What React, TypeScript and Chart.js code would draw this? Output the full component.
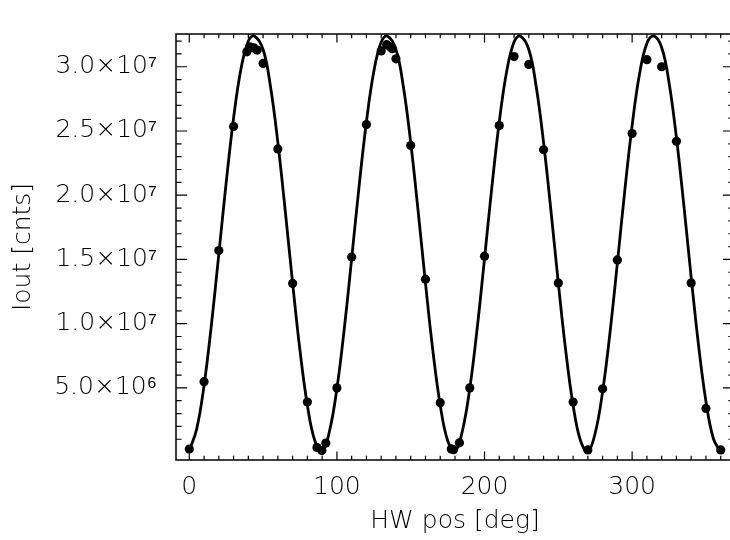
import React, { useEffect, useRef } from 'react';
import { Chart, registerables } from 'chart.js';

Chart.register(...registerables);

// Tick values / labels (y in units of 10^6 counts)
const xTickValues = [0, 100, 200, 300];
const xTickLabels = ['0', '100', '200', '300'];
const yTickValues = [5, 10, 15, 20, 25, 30];
const yTickLabels = ['5.0×10⁶', '1.0×10⁷', '1.5×10⁷', '2.0×10⁷', '2.5×10⁷', '3.0×10⁷'];

// Measured points: HW position [deg] and Iout [10^6 cnts]
const measuredAngles = [
  0, 10, 20, 30, 39, 41, 43.7, 46, 50, 60, 70, 80, 86.5, 89.8, 92.5,
  100, 110, 120, 130, 133.7, 136, 137.5, 140, 150, 160, 170, 177.5, 179, 183,
  190, 200, 210, 220, 230, 240, 250, 260, 270,
  280, 290, 300, 310, 320, 330, 340, 350, 360,
];
const measuredCounts = [
  0.24, 5.48, 15.69, 25.35, 31.16, 31.55, 31.47, 31.3, 30.26, 23.6, 13.13, 3.9, 0.36, 0.12, 0.7,
  5.0, 15.18, 25.5, 31.23, 31.72, 31.55, 31.4, 30.62, 23.86, 13.46, 3.85, 0.25, 0.19, 0.72,
  5.0, 15.25, 25.42, 30.79, 30.18, 23.54, 13.17, 3.9, 0.17,
  4.93, 14.96, 24.8, 30.55, 30.0, 24.2, 13.17, 3.4, 0.17,
];

// Fitted curve
const fitAngles = [
  0, 5, 10, 15, 20, 25, 30, 35, 40, 44, 50, 55, 60, 65, 70, 75, 80, 85, 90,
  95, 100, 105, 110, 115, 120, 125, 130, 134.15, 140, 145, 150, 155, 160, 165, 170, 175, 180,
  185, 190, 195, 200, 205, 210, 215, 220, 224.15, 230, 235, 240, 245, 250, 255, 260, 265, 270,
  275, 280, 285, 290, 295, 300, 305, 310, 314.5, 320, 325, 330, 335, 340, 345, 350, 355, 360,
];
const fitCounts = [
  0.13, 1.79, 5.19, 9.92, 15.41, 20.99, 25.99, 29.82, 32.0, 32.4, 31.34, 28.46, 24.1, 18.79, 13.16, 7.9, 3.65, 0.9, 0.02,
  1.64, 4.95, 9.61, 15.07, 20.66, 25.72, 29.63, 31.92, 32.4, 31.34, 28.46, 24.1, 18.79, 13.16, 7.9, 3.65, 0.9, 0.05,
  1.64, 4.95, 9.61, 15.07, 20.66, 25.72, 29.63, 31.92, 32.4, 31.34, 28.46, 24.1, 18.79, 13.16, 7.9, 3.65, 0.9, 0.03,
  1.49, 4.71, 9.3, 14.73, 20.34, 25.44, 29.44, 31.83, 32.4, 31.5, 28.76, 24.49, 19.24, 13.61, 8.3, 3.94, 1.06, 0.0,
];

const X_MIN = -9;
const X_MAX = 369;
const Y_MIN = -0.615;
const Y_MAX = 32.55;
const X_MINOR_STEP = 10;
const X_MAJOR_STEP = 100;
const Y_MINOR_STEP = 1;
const Y_MAJOR_STEP = 5;

const FONT_FAMILY = "'DejaVu Sans', 'Liberation Sans', sans-serif";
const TEXT_COLOR = '#000';

const framePlugin = {
  id: 'idlFrame',
  afterDatasetsDraw(chart: any) {
    const { ctx, chartArea, scales } = chart;
    const { left, right, top, bottom } = chartArea;
    const x = scales.x;
    const y = scales.y;
    const h = bottom - top;
    const w = right - left;
    const xMaj = 0.02 * h;
    const xMin = xMaj / 2;
    const yMaj = 0.02 * w;
    const yMin = yMaj / 2;
    ctx.save();
    ctx.strokeStyle = '#000';
    ctx.lineWidth = 1.5;
    ctx.strokeRect(left, top, w, h);
    ctx.lineWidth = 1.2;
    ctx.beginPath();
    for (let v = Math.ceil(x.min / X_MINOR_STEP) * X_MINOR_STEP; v <= x.max; v += X_MINOR_STEP) {
      const px = x.getPixelForValue(v);
      const len = v % X_MAJOR_STEP === 0 ? xMaj : xMin;
      ctx.moveTo(px, bottom);
      ctx.lineTo(px, bottom - len);
      ctx.moveTo(px, top);
      ctx.lineTo(px, top + len);
    }
    for (let v = Y_MINOR_STEP; v <= y.max; v += Y_MINOR_STEP) {
      const py = y.getPixelForValue(v);
      const len = v % Y_MAJOR_STEP === 0 ? yMaj : yMin;
      ctx.moveTo(left, py);
      ctx.lineTo(left + len, py);
      ctx.moveTo(right, py);
      ctx.lineTo(right - len, py);
    }
    ctx.stroke();
    ctx.restore();
  },
};

export default function App() {
  const canvasRef = useRef<HTMLCanvasElement | null>(null);

  useEffect(() => {
    const canvas = canvasRef.current;
    if (!canvas) return;
    const fitData = fitAngles.map((a, i) => ({ x: a, y: fitCounts[i] }));
    const measData = measuredAngles.map((a, i) => ({ x: a, y: measuredCounts[i] }));
    const tickFont = { family: FONT_FAMILY, size: 25, weight: 200 as any };
    const chart = new Chart(canvas, {
      type: 'scatter',
      data: {
        datasets: [
          {
            label: 'fit',
            data: fitData,
            showLine: true,
            borderColor: '#000',
            borderWidth: 2.8,
            pointRadius: 0,
            tension: 0.4,
            order: 2,
          } as any,
          {
            label: 'measured',
            data: measData,
            showLine: false,
            pointRadius: 4.6,
            pointStyle: 'circle',
            backgroundColor: '#000',
            borderColor: '#000',
            borderWidth: 0,
            order: 1,
          } as any,
        ],
      },
      options: {
        animation: false,
        responsive: false,
        maintainAspectRatio: false,
        devicePixelRatio: 1,
        layout: { padding: { top: 7, right: 6, left: 0, bottom: 0 } },
        plugins: { legend: { display: false }, tooltip: { enabled: false }, title: { display: false } },
        scales: {
          x: {
            type: 'linear',
            min: X_MIN,
            max: X_MAX,
            grid: { display: false, drawTicks: false },
            border: { display: false },
            afterBuildTicks: (s: any) => {
              s.ticks = xTickValues.map((v) => ({ value: v }));
            },
            afterFit: (s: any) => {
              s.height = 80;
            },
            ticks: {
              autoSkip: false,
              maxRotation: 0,
              padding: 12,
              color: TEXT_COLOR,
              font: tickFont,
              callback: (v: any) => {
                const i = xTickValues.indexOf(Number(v));
                return i >= 0 ? xTickLabels[i] : '';
              },
            },
            title: {
              display: true,
              text: 'HW pos [deg]',
              color: TEXT_COLOR,
              font: tickFont,
              padding: { top: 0, bottom: 4 },
            },
          },
          y: {
            type: 'linear',
            min: Y_MIN,
            max: Y_MAX,
            grid: { display: false, drawTicks: false },
            border: { display: false },
            afterBuildTicks: (s: any) => {
              s.ticks = yTickValues.map((v) => ({ value: v }));
            },
            afterFit: (s: any) => {
              s.width = 176;
            },
            ticks: {
              autoSkip: false,
              padding: 19,
              color: TEXT_COLOR,
              font: tickFont,
              callback: (v: any) => {
                const i = yTickValues.indexOf(Number(v));
                return i >= 0 ? yTickLabels[i] : '';
              },
            },
            title: {
              display: true,
              text: 'Iout [cnts]',
              color: TEXT_COLOR,
              font: tickFont,
              padding: { top: 8, bottom: 0 },
            },
          },
        },
      },
      plugins: [framePlugin],
    });
    return () => chart.destroy();
  }, []);

  return (
    <div
      style={{
        position: 'fixed',
        left: 0,
        top: 0,
        width: 730,
        height: 540,
        overflow: 'hidden',
        background: '#fff',
      }}
    >
      <canvas ref={canvasRef} width={740} height={540} style={{ display: 'block' }} />
    </div>
  );
}
